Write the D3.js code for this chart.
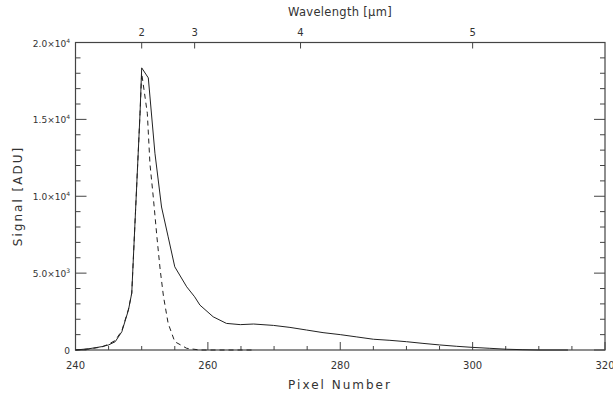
<!DOCTYPE html>
<html>
<head>
<meta charset="utf-8">
<script src="https://cdn.jsdelivr.net/npm/d3@7"></script>
<style>
  html, body { margin: 0; padding: 0; background: #fff; }
  svg { display: block; }
  text { font-family: "DejaVu Sans", "Liberation Sans", sans-serif; fill: #333; }
</style>
</head>
<body>
<svg id="chart" width="613" height="401"></svg>
<script>
// ---- Data ----
const measuredPixel  = [240, 242, 244, 245, 246, 247, 248, 248.5, 249.75, 250, 251, 252, 253, 254, 255, 256.8, 258, 258.8, 260.8, 262.8, 264.9, 266.9, 269.9, 272.4, 274.9, 277.4, 280, 282.5, 285, 287.5, 290, 292.5, 295, 297.6, 300, 302.6, 305.1, 307.6, 310, 314.4];
const measuredSignal = [0, 80, 220, 330, 540, 1190, 2600, 3700, 15400, 18350, 17700, 12800, 9300, 7360, 5410, 4110, 3460, 2920, 2160, 1730, 1650, 1690, 1600, 1470, 1300, 1130, 1000, 850, 700, 630, 540, 430, 330, 240, 170, 110, 50, 20, 0, 0];

const modelPixel  = [240, 242, 244, 245, 246, 247, 248, 248.5, 249.75, 250, 250.85, 251.25, 251.75, 252.3, 252.8, 253.3, 254, 255, 256.8, 258.8, 263, 267];
const modelSignal = [0, 60, 200, 380, 620, 1250, 2650, 3700, 15400, 18000, 15400, 12100, 9950, 7360, 5200, 3460, 1730, 540, 110, 0, 0, 0];

const xMajorTicks = [240, 260, 280, 300, 320];
const yMajorTicks = [0, 5000, 10000, 15000, 20000];
const yTickLabels = [["0", ""], ["5.0×10", "3"], ["1.0×10", "4"], ["1.5×10", "4"], ["2.0×10", "4"]];
const wavelengthPixel = [250, 258, 274, 300];
const wavelengthLabel = ["2", "3", "4", "5"];

// ---- Layout ----
const svg = d3.select("#chart");
const mLeft = 75.5, mRight = 605, mTop = 42.5, mBottom = 350;
const x = d3.scaleLinear().domain([240, 320]).range([mLeft, mRight]);
const y = d3.scaleLinear().domain([0, 20000]).range([mBottom, mTop]);
const axisColor = "#444";

// frame
svg.append("rect").attr("x", mLeft).attr("y", mTop)
  .attr("width", mRight - mLeft).attr("height", mBottom - mTop)
  .attr("fill", "none").attr("stroke", axisColor).attr("stroke-width", 1.2);

// bottom x ticks (inward)
const xMinor = d3.range(240, 321, 5);
const g = svg.append("g").attr("stroke", axisColor).attr("stroke-width", 1);
xMinor.forEach(v => {
  const major = xMajorTicks.includes(v);
  const len = major ? 8 : 4;
  g.append("line").attr("x1", x(v)).attr("x2", x(v)).attr("y1", mBottom).attr("y2", mBottom - len);
});
xMajorTicks.forEach(v => {
  svg.append("text").attr("x", x(v)).attr("y", 369).attr("text-anchor", "middle")
    .attr("font-size", 10).text(v);
});

// y ticks (left & right, inward)
const yMinor = d3.range(0, 20001, 1000);
yMinor.forEach(v => {
  const major = yMajorTicks.includes(v);
  const len = major ? 11 : 5;
  g.append("line").attr("x1", mLeft).attr("x2", mLeft + len).attr("y1", y(v)).attr("y2", y(v));
  g.append("line").attr("x1", mRight).attr("x2", mRight - len).attr("y1", y(v)).attr("y2", y(v));
});
yMajorTicks.forEach((v, i) => {
  const t = svg.append("text").attr("x", 70).attr("y", y(v) + 4)
    .attr("text-anchor", "end").attr("font-size", 9);
  t.append("tspan").text(yTickLabels[i][0]);
  if (yTickLabels[i][1]) {
    t.append("tspan").attr("dy", -4).attr("font-size", 6).text(yTickLabels[i][1]);
  }
});

// top wavelength axis
wavelengthPixel.forEach((p, i) => {
  g.append("line").attr("x1", x(p)).attr("x2", x(p)).attr("y1", mTop).attr("y2", mTop + 6);
  svg.append("text").attr("x", x(p)).attr("y", 36).attr("text-anchor", "middle")
    .attr("font-size", 10).text(wavelengthLabel[i]);
});

// titles
svg.append("text").attr("x", 340).attr("y", 16).attr("text-anchor", "middle")
  .attr("font-size", 11.5).attr("letter-spacing", 0.3).text("Wavelength [μm]");
svg.append("text").attr("x", 340).attr("y", 389).attr("text-anchor", "middle")
  .attr("font-size", 12).attr("letter-spacing", 2).text("Pixel Number");
svg.append("text").attr("transform", "translate(22,196) rotate(-90)")
  .attr("text-anchor", "middle").attr("font-size", 12).attr("letter-spacing", 2)
  .text("Signal [ADU]");

// lines
const line = d3.line().x(d => x(d[0])).y(d => y(d[1]));
svg.append("path")
  .datum(measuredPixel.map((p, i) => [p, measuredSignal[i]]))
  .attr("d", line).attr("fill", "none").attr("stroke", "#222").attr("stroke-width", 1);
svg.append("path")
  .datum(modelPixel.map((p, i) => [p, modelSignal[i]]))
  .attr("d", line).attr("fill", "none").attr("stroke", "#222").attr("stroke-width", 1)
  .attr("stroke-dasharray", "5,4");
</script>
</body>
</html>
